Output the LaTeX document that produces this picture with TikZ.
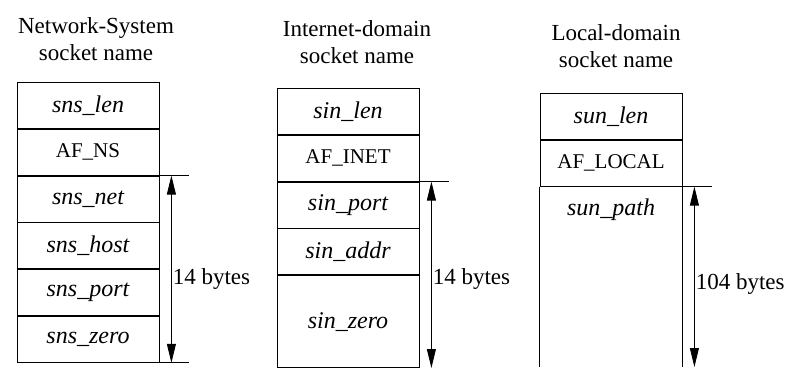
\documentclass[tikz,border=0pt]{standalone}
\usepackage{fontspec}
\setmainfont{Liberation Serif}
\usetikzlibrary{positioning, arrows.meta}
\newcommand{\fname}[1]{{\fontsize{24}{26}\selectfont\itshape #1}}

\begin{document}
\begin{tikzpicture}[x=1pt, y=-1pt, line width=0.8pt,
    field/.style={draw, minimum width=142pt, minimum height=46pt, inner sep=0pt,
        font=\fontsize{21}{26}\selectfont},
    title/.style={align=center, font=\fontsize{23}{27}\selectfont},
    dimline/.style={{Triangle[length=19pt,width=9pt]}-{Triangle[length=19pt,width=9pt]}},
    dimlabel/.style={fill=white, anchor=west, inner sep=1pt, font=\fontsize{23}{27}\selectfont}]
    \useasboundingbox (0,0) rectangle (786,367);

    % Network-System
    \node[title] (nsTitle) at (96,39) {Network-System\\socket name};
    \node[field, anchor=north] (nsLen) at (88,82) {\fname{sns\_len}};
    \node[field, below=0pt of nsLen] (nsFam) {AF\_NS};
    \node[field, below=0pt of nsFam] (nsNet) {\fname{sns\_net}};
    \node[field, below=0pt of nsNet] (nsHost) {\fname{sns\_host}};
    \node[field, below=0pt of nsHost] (nsPort) {\fname{sns\_port}};
    \node[field, below=0pt of nsPort] (nsZero) {\fname{sns\_zero}};
    \coordinate[right=30pt of nsNet.north east] (nsTopEnd);
    \coordinate[right=30pt of nsZero.south east] (nsBotEnd);
    \coordinate[right=12pt of nsNet.north east] (nsUp);
    \coordinate[right=12pt of nsZero.south east] (nsDown);
    \draw (nsNet.north east) -- (nsTopEnd);
    \draw (nsZero.south east) -- (nsBotEnd);
    \draw[dimline] (nsUp) -- node[dimlabel, pos=0.55] (nsSize) {14 bytes} (nsDown);

    % Internet-domain
    \node[title] (inTitle) at (357,42) {Internet-domain\\socket name};
    \node[field, anchor=north] (inLen) at (348,88) {\fname{sin\_len}};
    \node[field, below=0pt of inLen] (inFam) {AF\_INET};
    \node[field, below=0pt of inFam] (inPort) {\fname{sin\_port}};
    \node[field, below=0pt of inPort] (inAddr) {\fname{sin\_addr}};
    \node[field, below=0pt of inAddr, minimum height=92pt] (inZero) {\fname{sin\_zero}};
    \coordinate[right=30pt of inPort.north east] (inTopEnd);
    \coordinate[right=30pt of inZero.south east] (inBotEnd);
    \coordinate[right=12pt of inPort.north east] (inUp);
    \coordinate[right=12pt of inZero.south east] (inDown);
    \draw (inPort.north east) -- (inTopEnd);
    \draw (inZero.south east) -- (inBotEnd);
    \draw[dimline] (inUp) -- node[dimlabel, pos=0.52] (inSize) {14 bytes} (inDown);

    % Local-domain
    \node[title] (unTitle) at (616,46) {Local-domain\\socket name};
    \node[field, anchor=north] (unLen) at (611,93) {\fname{sun\_len}};
    \node[field, below=0pt of unLen] (unFam) {AF\_LOCAL};
    \node[field, draw=none, below=0pt of unFam] (unPath) {\fname{sun\_path}};
    \coordinate (unEnd) at (611,367);
    \draw (unPath.north west) -- (unPath.north west |- unEnd);
    \draw (unPath.north east) -- (unPath.north east |- unEnd);
    \coordinate[right=30pt of unFam.south east] (unTopEnd);
    \coordinate[right=12pt of unFam.south east] (unUp);
    \coordinate (unDown) at (unUp |- unEnd);
    \draw (unFam.south east) -- (unTopEnd);
    \draw[dimline] (unUp) -- node[dimlabel, pos=0.54] (unSize) {104 bytes} (unDown);
\end{tikzpicture}
\end{document}
